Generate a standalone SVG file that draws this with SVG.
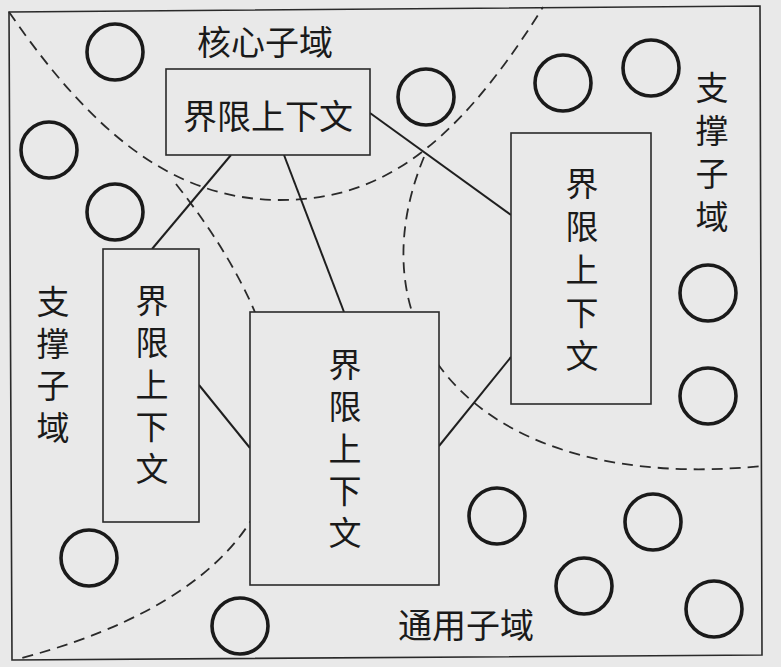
<svg xmlns="http://www.w3.org/2000/svg" width="781" height="667" viewBox="0 0 781 667">
  <style>
    .bg { fill: #e9e9e9; }
    .frame { fill: none; stroke: #2a2a2a; stroke-width: 1.6; }
    .box { fill: #e9e9e9; stroke: #2a2a2a; stroke-width: 1.6; }
    .dash { fill: none; stroke: #2a2a2a; stroke-width: 1.8; stroke-dasharray: 11 7; }
    .conn { fill: none; stroke: #1f1f1f; stroke-width: 2; }
    .circ { fill: none; stroke: #1a1a1a; stroke-width: 3.6; }
    .t { font-family: "Noto Sans CJK SC", "Noto Sans", sans-serif; font-size: 33px; fill: #1a1a1a; text-anchor: middle; dominant-baseline: central; }
    .tl { font-size: 34px; }
    .v { writing-mode: vertical-rl; letter-spacing: 9px; }
    .v2 { writing-mode: vertical-rl; letter-spacing: 10px; }
  </style>
  <rect class="bg" x="0" y="0" width="781" height="667"/>
  <polygon class="frame" points="9,12 760,6 762,655 12,660"/>

  <g id="boundaries">
    <path class="dash" d="M9,12 C89,128 170,200 280,200 C370,200 448,160 543,7"/>
    <path class="dash" d="M176,184 C335,385 331,575 22,658"/>
    <path class="dash" d="M424,157 C349,339 483,494 762,466"/>
  </g>

  <g id="connectors">
    <line class="conn" x1="231" y1="155" x2="152" y2="249"/>
    <line class="conn" x1="284" y1="155" x2="344" y2="312"/>
    <line class="conn" x1="370" y1="113" x2="511" y2="215"/>
    <line class="conn" x1="199" y1="385" x2="250" y2="448"/>
    <line class="conn" x1="439" y1="446" x2="511" y2="357"/>
  </g>

  <g id="subdomains">
    <circle class="circ" cx="115" cy="52" r="28"/>
    <circle class="circ" cx="49" cy="150" r="28"/>
    <circle class="circ" cx="115" cy="212" r="28"/>
    <circle class="circ" cx="426" cy="97" r="28"/>
    <circle class="circ" cx="563" cy="83" r="28"/>
    <circle class="circ" cx="651" cy="68" r="28"/>
    <circle class="circ" cx="708" cy="293" r="28"/>
    <circle class="circ" cx="708" cy="396" r="28"/>
    <circle class="circ" cx="89" cy="558" r="28"/>
    <circle class="circ" cx="240" cy="626" r="28"/>
    <circle class="circ" cx="497" cy="516" r="28"/>
    <circle class="circ" cx="653" cy="522" r="28"/>
    <circle class="circ" cx="584" cy="586" r="28"/>
    <circle class="circ" cx="714" cy="609" r="28"/>
  </g>

  <g id="ctx-top">
    <rect class="box" x="166" y="69" width="204" height="86"/>
    <text class="t tl" x="268" y="114">界限上下文</text>
  </g>

  <g id="ctx-left">
    <rect class="box" x="103" y="249" width="96" height="273"/>
    <text class="t v" x="152" y="389">界限上下文</text>
  </g>

  <g id="ctx-center">
    <rect class="box" x="250" y="312" width="189" height="273"/>
    <text class="t v" x="345" y="453">界限上下文</text>
  </g>

  <g id="ctx-right">
    <rect class="box" x="511" y="133" width="140" height="271"/>
    <text class="t v2" x="582" y="274">界限上下文</text>
  </g>

  <g id="labels">
    <text class="t tl" x="265" y="40">核心子域</text>
    <text class="t v2" x="712" y="157">支撑子域</text>
    <text class="t v" x="53" y="369">支撑子域</text>
    <text class="t tl" x="466" y="623">通用子域</text>
  </g>
</svg>
